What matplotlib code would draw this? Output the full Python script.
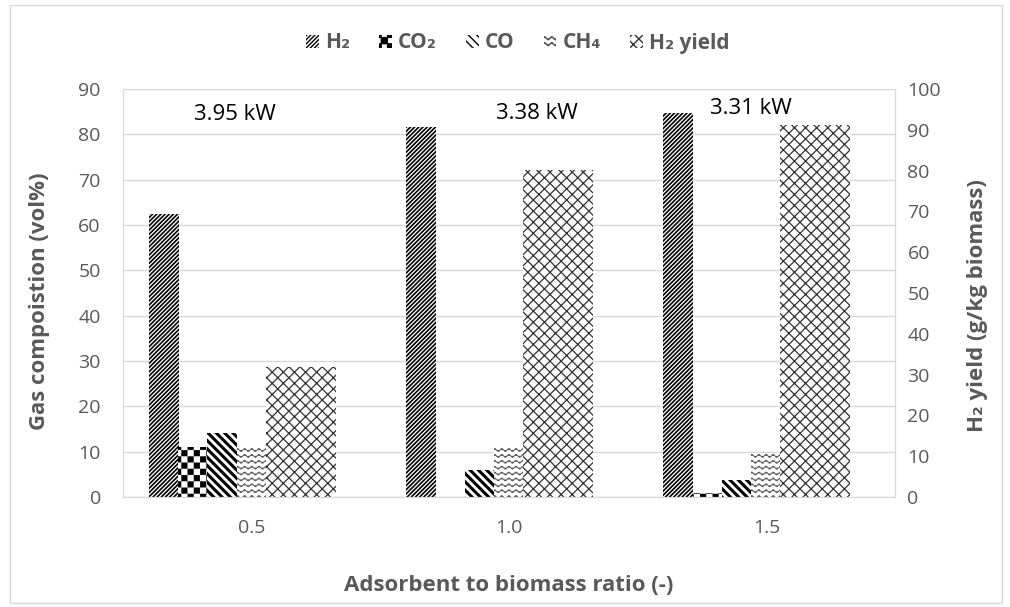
import numpy as np
import matplotlib

matplotlib.use('Agg')
import matplotlib.hatch as mhatch
from matplotlib import pyplot as plt
from matplotlib.path import Path
from matplotlib.patches import Rectangle

ratios = ['0.5', '1.0', '1.5']
h2 = [62.4, 81.7, 84.7]
co2 = [11.1, 0.0, 0.9]
co = [14.1, 6.0, 3.8]
ch4 = [11.1, 11.1, 9.8]
h2_yield = [31.9, 80.1, 91.2]
power_labels = ['3.95 kW', '3.38 kW', '3.31 kW']

GRAY = '#595959'


class CheckerHatch(mhatch.HatchPatternBase):
    """'o' -> checkerboard of filled squares"""

    def __init__(self, hatch, density):
        self.cells = 16 if 'o' in hatch else 0
        self.num_vertices = self.cells * self.cells // 2 * 5

    def set_vertices_and_codes(self, vertices, codes):
        n = self.cells
        s = 1.0 / n
        pad = 0.001
        k = 0
        for r in range(n):
            for c in range(n):
                if (r + c) % 2:
                    continue
                x0, y0 = c * s + pad, r * s + pad
                x1, y1 = (c + 1) * s - pad, (r + 1) * s - pad
                vertices[k:k + 5] = [(x0, y0), (x1, y0), (x1, y1), (x0, y1), (x0, y0)]
                codes[k:k + 5] = [Path.MOVETO, Path.LINETO, Path.LINETO,
                                  Path.LINETO, Path.CLOSEPOLY]
                k += 5


class WaveHatch(mhatch.HatchPatternBase):
    """'O' -> rows of small waves"""

    def __init__(self, hatch, density):
        self.rows = 17 if 'O' in hatch else 0
        self.pts = 14 * 8 + 1
        self.num_vertices = self.rows * self.pts

    def set_vertices_and_codes(self, vertices, codes):
        t = np.linspace(0, 1, self.pts)
        wave = 0.015 * np.sin(2 * np.pi * 14 * t)
        for r in range(self.rows):
            sl = slice(r * self.pts, (r + 1) * self.pts)
            vertices[sl, 0] = t
            vertices[sl, 1] = (r + 0.5) / self.rows + wave
            codes[sl] = Path.LINETO
            codes[r * self.pts] = Path.MOVETO


mhatch._hatch_types = [t for t in mhatch._hatch_types
                       if t not in (mhatch.SmallCircles, mhatch.LargeCircles)]
mhatch._hatch_types += [CheckerHatch, WaveHatch]

plt.rcParams['font.family'] = ['Open Sans', 'DejaVu Sans']
plt.rcParams['hatch.linewidth'] = 1.0

fig = plt.figure(figsize=(10.1, 6.07), dpi=100)
ax = fig.add_axes([123 / 1010, 1 - 497 / 607, 772 / 1010, 408 / 607])
ax2 = ax.twinx()

x = np.arange(len(ratios))
w = 0.116
series = [
    (h2, -0.342, '////////', 'black', 1.2, 'H₂'),
    (co2, -0.228, 'o', 'black', 0.1, 'CO₂'),
    (co, -0.114, '\\\\\\\\', 'black', 2.2, 'CO'),
    (ch4, 0.0, 'O', '#555555', 0.6, 'CH₄'),
]
handles = []
for vals, off, hatch, col, hlw, lab in series:
    b = ax.bar(x + off, vals, w, color='white', edgecolor=col, linewidth=0,
               hatch=hatch, label=lab, zorder=2)
    for p in b.patches:
        if hasattr(p, 'set_hatch_linewidth'):
            p.set_hatch_linewidth(hlw)
    handles.append(b)
b = ax2.bar(x + 0.19, h2_yield, 0.272, color='white', edgecolor='#333333',
            linewidth=0, hatch='xxx', label='H₂ yield', zorder=2)
for p in b.patches:
    if hasattr(p, 'set_hatch_linewidth'):
        p.set_hatch_linewidth(0.9)
handles.append(b)

ax.set_xlim(-0.5, 2.5)
ax.set_ylim(0, 90)
ax2.set_ylim(0, 100)
ax.set_yticks(range(0, 91, 10))
ax2.set_yticks(range(0, 101, 10))
ax.set_xticks(x)
ax.set_xticklabels(ratios)

ax.set_axisbelow(True)
ax.grid(axis='y', color='#d9d9d9', linewidth=1.0)
for a in (ax, ax2):
    a.tick_params(length=0, labelsize=14, labelcolor=GRAY)
    a.spines['top'].set_visible(False)
    for s in ('left', 'right', 'bottom'):
        a.spines[s].set_color('#d9d9d9')
ax.tick_params(axis='y', pad=16)
ax2.tick_params(axis='y', pad=9)
ax.tick_params(axis='x', pad=16)

ax.set_xlabel('Adsorbent to biomass ratio (-)', fontsize=16, fontweight='bold',
              color=GRAY, labelpad=27)
ax.set_ylabel('Gas compoistion (vol%)', fontsize=16, fontweight='bold', color=GRAY)
ax.yaxis.set_label_coords(-0.094, 0.48)
ax2.set_ylabel('H₂ yield (g/kg biomass)', fontsize=16, fontweight='bold', color=GRAY)
ax2.yaxis.set_label_coords(1.093, 0.47)

for xp, yp, txt in zip([-0.065, 1.109, 1.94], [84.3, 84.7, 85.8], power_labels):
    ax.text(xp, yp, txt, fontsize=16, ha='center', va='center', color='black')

fig.legend(handles=handles, loc='center', bbox_to_anchor=(518 / 1010, 1 - 43 / 607),
           ncol=5, frameon=False, handlelength=0.6, handleheight=0.6,
           handletextpad=0.3, columnspacing=1.4,
           prop={'weight': 'bold', 'size': 15})
for t in fig.legends[0].get_texts():
    t.set_color(GRAY)

fig.patches.append(Rectangle((10 / 1010, 4 / 607), 992 / 1010, 598 / 607,
                             transform=fig.transFigure, fill=False,
                             edgecolor='#d9d9d9', linewidth=1.0))

fig.savefig('out.png', dpi=100)
